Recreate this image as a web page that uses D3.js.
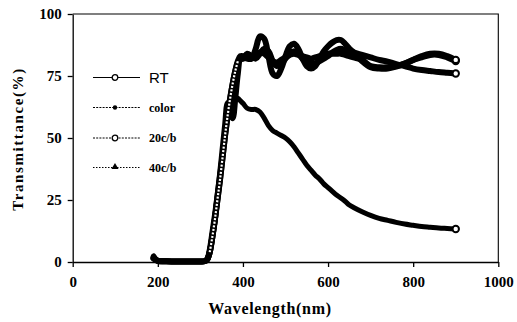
<!DOCTYPE html>
<html>
<head>
<meta charset="utf-8">
<script src="https://cdn.jsdelivr.net/npm/d3@7"></script>
<style>
  html, body { margin: 0; padding: 0; background: #fff; }
  svg { display: block; }
</style>
</head>
<body>
<svg id="chart" width="517" height="322"></svg>
<script>
// Wavelength grid (nm) shared by every spectrum
const wavelength = [190, 200, 220, 250, 280, 300, 310, 316, 322, 328, 334, 340, 346, 352, 358, 364,
  370, 376, 382, 388, 394, 400, 410, 420, 430, 440, 450, 460, 470, 480, 490, 500, 510, 520, 530,
  540, 550, 560, 570, 580, 590, 600, 610, 620, 630, 640, 650, 660, 680, 700, 720, 740, 760, 780,
  800, 820, 840, 860, 880, 900];

// Transmittance (%) of each sample
const rtValues = [2, 0.5, 0.3, 0.2, 0.2, 0.2, 0.4, 1, 4, 10, 17, 25, 33, 42, 51, 59,
  66, 72, 77, 80.5, 82, 82, 82.5, 83, 83.5, 84.5, 84, 82.5, 81, 80.5, 81.5, 82.5, 83.5, 84, 83.5,
  83, 82.5, 82, 82.5, 83, 83.5, 84, 84, 84, 84, 83.5, 83, 82.5, 81.5, 79, 78.5, 78.5, 79, 80,
  81.5, 82.5, 83.5, 83.5, 82.5, 81];
const colorValues = [2.5, 0.5, 0.3, 0.2, 0.2, 0.2, 0.3, 1.5, 6, 13, 20, 28, 36, 44, 52, 59,
  63, 65, 66, 66, 65, 64, 62, 61.5, 61.5, 60.5, 58, 55, 53, 52, 51, 50, 48.5, 46.5, 44,
  41.5, 39, 37, 35, 33.5, 31.5, 30, 28.5, 27, 25.8, 24.5, 23, 22, 20.3, 18.8, 17.6, 16.8, 16, 15.3,
  14.8, 14.3, 14, 13.7, 13.5, 13.3];
const c20Values = [1.5, 0.5, 0.3, 0.2, 0.2, 0.2, 0.3, 1, 4, 10, 17, 25, 33, 42, 51, 59,
  66, 72, 77, 81, 83, 83, 82, 82, 86, 91, 90, 83, 76, 75, 78, 83, 87, 88, 86,
  82, 79, 78, 79, 82, 85, 87, 88.5, 89.5, 89.5, 88, 86, 84.5, 81, 78.5, 78, 78, 78.8, 80,
  81.5, 83, 84, 84, 83, 81.5];
const c40Values = [1.5, 0.5, 0.3, 0.2, 0.2, 0.2, 0.3, 1, 4, 10, 17, 26, 35, 45, 55, 64,
  61, 58, 66, 76, 82, 82, 84, 83, 82, 84, 86, 85, 81, 79, 80, 82, 84, 85, 84,
  82, 81, 80, 80, 81, 82, 83, 84.5, 85.5, 86, 85.5, 85, 84.5, 83.5, 82.5, 81.5, 80.8, 79.8, 79,
  78, 77.4, 77, 76.6, 76.3, 76];

// Axis ticks
const xTicks = [0, 200, 400, 600, 800, 1000];
const yTicks = [0, 25, 50, 75, 100];

// Legend entries
const legendLabels = ["RT", "color", "20c/b", "40c/b"];

const svg = d3.select("#chart");
const serif = "'Liberation Serif', 'DejaVu Serif', serif";

const x = d3.scaleLinear().domain([0, 1000]).range([72.7, 498.3]);
const y = d3.scaleLinear().domain([0, 100]).range([262, 14]);

// Frame (top and right borders)
svg.append("path")
  .attr("d", `M${x(0)},${y(100)}H${x(1000)}V${y(0)}`)
  .attr("fill", "none").attr("stroke", "#000").attr("stroke-width", 1.1);

// Axes
const xAxis = svg.append("g").attr("transform", `translate(0,${y(0)})`)
  .call(d3.axisBottom(x).tickValues(xTicks).tickFormat(d3.format("d"))
    .tickSize(5).tickSizeOuter(0).tickPadding(6));
const yAxis = svg.append("g").attr("transform", `translate(${x(0)},0)`)
  .call(d3.axisLeft(y).tickValues(yTicks).tickFormat(d3.format("d"))
    .tickSize(5).tickSizeOuter(0).tickPadding(6));

[xAxis, yAxis].forEach(g => {
  g.selectAll("path.domain").attr("stroke", "#000").attr("stroke-width", 1.3);
  g.selectAll(".tick line").attr("stroke", "#000").attr("stroke-width", 1.3);
  g.selectAll(".tick text")
    .attr("fill", "#000")
    .style("font-family", serif)
    .style("font-weight", "bold")
    .style("font-size", "15px");
});
xAxis.selectAll(".tick text").attr("dy", "0.95em");

// Axis titles
svg.append("text")
  .attr("x", 270).attr("y", 314)
  .attr("text-anchor", "middle")
  .style("font-family", serif).style("font-weight", "bold")
  .style("font-size", "16px").style("letter-spacing", "0.7px")
  .text("Wavelength(nm)");

svg.append("text")
  .attr("transform", "translate(23,139) rotate(-90)")
  .attr("text-anchor", "middle")
  .style("font-family", serif).style("font-weight", "bold")
  .style("font-size", "15px").style("letter-spacing", "1.6px")
  .text("Transmittance(%)");

// Spectra
const series = [
  { name: "color", values: colorValues, width: 5 },
  { name: "RT", values: rtValues, width: 6 },
  { name: "40c/b", values: c40Values, width: 6 },
  { name: "20c/b", values: c20Values, width: 6 }
];

const line = d3.line()
  .x(d => x(d[0]))
  .y(d => y(d[1]))
  .curve(d3.curveCatmullRom.alpha(0.5));

const plot = svg.append("g");
series.forEach(s => {
  const pts = wavelength.map((w, i) => [w, s.values[i]]);
  plot.append("path")
    .datum(pts)
    .attr("d", line)
    .attr("fill", "none")
    .attr("stroke", "#000")
    .attr("stroke-width", s.width)
    .attr("stroke-linejoin", "round")
    .attr("stroke-linecap", "round");
});

// Stacked open-circle markers show as a white dotted core along the steep absorption edge
const edge = wavelength.map((w, i) => [w, c20Values[i]]).filter(d => d[0] >= 322 && d[0] <= 388);
plot.append("path")
  .datum(edge)
  .attr("d", line)
  .attr("fill", "none")
  .attr("stroke", "#fff")
  .attr("stroke-width", 2.2)
  .attr("stroke-dasharray", "2 1.6");

// End-point markers
series.forEach(s => {
  const last = wavelength.length - 1;
  plot.append("circle")
    .attr("cx", x(wavelength[last]))
    .attr("cy", y(s.values[last]))
    .attr("r", 3.2)
    .attr("fill", "#fff")
    .attr("stroke", "#000")
    .attr("stroke-width", 2);
});

// Legend
const legendY = [77.5, 107.5, 138, 167.5];
const legendDash = [null, "2 1.2", "2 1.2", "1.5 1.5"];
const legend = svg.append("g");
legendLabels.forEach((label, i) => {
  const g = legend.append("g").attr("transform", `translate(0,${legendY[i]})`);
  g.append("line")
    .attr("x1", 93).attr("x2", 140).attr("y1", 0).attr("y2", 0)
    .attr("stroke", "#000").attr("stroke-width", 1)
    .attr("stroke-dasharray", legendDash[i]);
  if (i === 0 || i === 2) {
    g.append("circle").attr("cx", 115).attr("cy", 0).attr("r", 2.8)
      .attr("fill", "#fff").attr("stroke", "#000").attr("stroke-width", 1.3);
  } else if (i === 1) {
    g.append("circle").attr("cx", 115).attr("cy", 0).attr("r", 2.2)
      .attr("fill", "#000");
  } else {
    g.append("path")
      .attr("d", d3.symbol(d3.symbolTriangle, 22)())
      .attr("transform", "translate(115,-0.5)")
      .attr("fill", "#000");
  }
  g.append("text")
    .attr("x", 149).attr("y", 0).attr("dy", "0.35em")
    .style("font-family", i === 0 ? "'Liberation Sans', Arial, sans-serif" : serif)
    .style("font-weight", i === 0 ? "normal" : "bold")
    .style("font-size", i === 0 ? "15px" : "12px")
    .text(label);
});
</script>
</body>
</html>
